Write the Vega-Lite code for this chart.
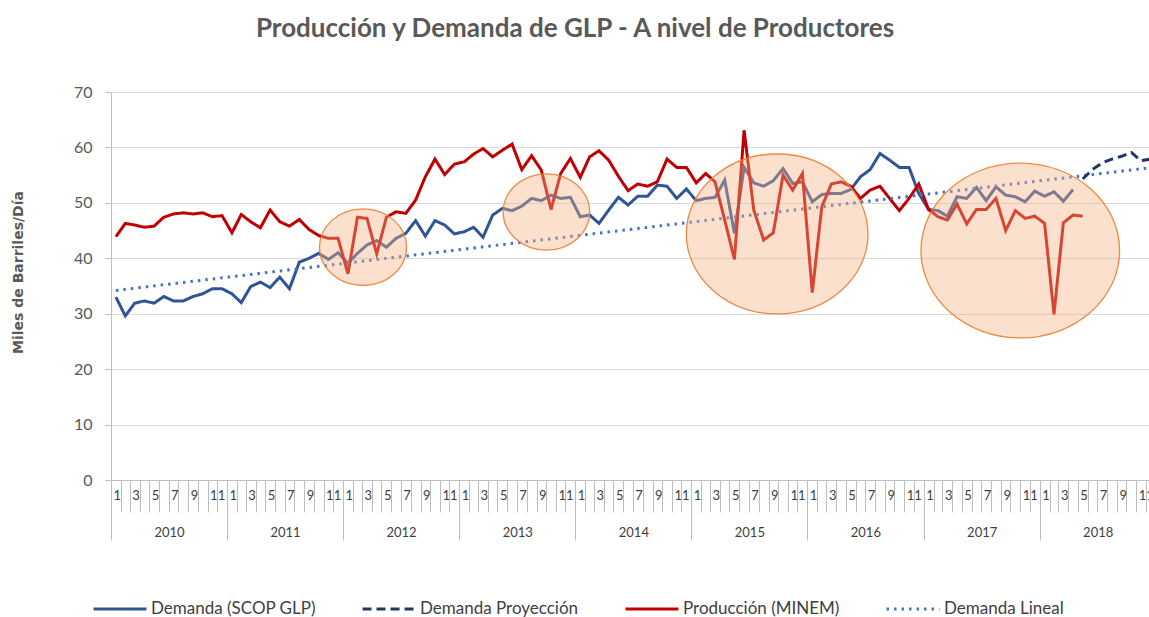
{
  "$schema": "https://vega.github.io/schema/vega-lite/v6.json",
  "autosize": {"type": "none"},
  "width": 1038,
  "height": 388,
  "padding": {"left": 111, "top": 92, "right": 0, "bottom": 137},
  "background": "white",
  "title": {
    "text": "Producción y Demanda de GLP - A nivel de Productores",
    "font": "Lato", "fontSize": 26, "fontWeight": "bold", "color": "#595959",
    "anchor": "middle", "frame": "group", "dx": -55, "offset": 21, "baseline": "alphabetic"
  },
  "config": {
    "font": "Lato",
    "view": {"stroke": null},
    "axis": {"labelFont": "Lato", "titleFont": "Lato"}
  },
  "resolve": {"axis": {"x": "independent"}},
  "layer": [
    {
      "data": {"values": [
        {"fecha":"2010-01","demanda":33,"produccion":43.9,"lineal":34.2},
        {"fecha":"2010-02","demanda":29.6,"produccion":46.3},
        {"fecha":"2010-03","demanda":31.9,"produccion":46},
        {"fecha":"2010-04","demanda":32.3,"produccion":45.6},
        {"fecha":"2010-05","demanda":31.9,"produccion":45.8},
        {"fecha":"2010-06","demanda":33.1,"produccion":47.4},
        {"fecha":"2010-07","demanda":32.3,"produccion":48},
        {"fecha":"2010-08","demanda":32.3,"produccion":48.2},
        {"fecha":"2010-09","demanda":33.1,"produccion":48},
        {"fecha":"2010-10","demanda":33.6,"produccion":48.2},
        {"fecha":"2010-11","demanda":34.5,"produccion":47.5},
        {"fecha":"2010-12","demanda":34.5,"produccion":47.7},
        {"fecha":"2011-01","demanda":33.6,"produccion":44.6},
        {"fecha":"2011-02","demanda":32,"produccion":47.9},
        {"fecha":"2011-03","demanda":34.9,"produccion":46.6},
        {"fecha":"2011-04","demanda":35.7,"produccion":45.5},
        {"fecha":"2011-05","demanda":34.7,"produccion":48.7},
        {"fecha":"2011-06","demanda":36.6,"produccion":46.6},
        {"fecha":"2011-07","demanda":34.5,"produccion":45.8},
        {"fecha":"2011-08","demanda":39.3,"produccion":47},
        {"fecha":"2011-09","demanda":40,"produccion":45.2},
        {"fecha":"2011-10","demanda":40.9,"produccion":44.1},
        {"fecha":"2011-11","demanda":39.8,"produccion":43.6},
        {"fecha":"2011-12","demanda":41,"produccion":43.6},
        {"fecha":"2012-01","demanda":39.1,"produccion":37.2},
        {"fecha":"2012-02","demanda":40.9,"produccion":47.4},
        {"fecha":"2012-03","demanda":42.4,"produccion":47.2},
        {"fecha":"2012-04","demanda":43.2,"produccion":40.8},
        {"fecha":"2012-05","demanda":42,"produccion":47.4},
        {"fecha":"2012-06","demanda":43.6,"produccion":48.4},
        {"fecha":"2012-07","demanda":44.5,"produccion":48.1},
        {"fecha":"2012-08","demanda":46.8,"produccion":50.5},
        {"fecha":"2012-09","demanda":44,"produccion":54.7},
        {"fecha":"2012-10","demanda":46.8,"produccion":57.9},
        {"fecha":"2012-11","demanda":46,"produccion":55.1},
        {"fecha":"2012-12","demanda":44.4,"produccion":57},
        {"fecha":"2013-01","demanda":44.8,"produccion":57.4},
        {"fecha":"2013-02","demanda":45.6,"produccion":58.8},
        {"fecha":"2013-03","demanda":43.8,"produccion":59.8},
        {"fecha":"2013-04","demanda":47.8,"produccion":58.3},
        {"fecha":"2013-05","demanda":49,"produccion":59.5},
        {"fecha":"2013-06","demanda":48.6,"produccion":60.6},
        {"fecha":"2013-07","demanda":49.4,"produccion":56},
        {"fecha":"2013-08","demanda":50.8,"produccion":58.5},
        {"fecha":"2013-09","demanda":50.4,"produccion":55.9},
        {"fecha":"2013-10","demanda":51.4,"produccion":48.8},
        {"fecha":"2013-11","demanda":50.8,"produccion":55.3},
        {"fecha":"2013-12","demanda":51,"produccion":58},
        {"fecha":"2014-01","demanda":47.5,"produccion":54.6},
        {"fecha":"2014-02","demanda":47.8,"produccion":58.3},
        {"fecha":"2014-03","demanda":46.3,"produccion":59.4},
        {"fecha":"2014-04","demanda":48.7,"produccion":57.7},
        {"fecha":"2014-05","demanda":51,"produccion":54.8},
        {"fecha":"2014-06","demanda":49.6,"produccion":52.2},
        {"fecha":"2014-07","demanda":51.2,"produccion":53.4},
        {"fecha":"2014-08","demanda":51.2,"produccion":53},
        {"fecha":"2014-09","demanda":53.2,"produccion":53.8},
        {"fecha":"2014-10","demanda":53,"produccion":57.9},
        {"fecha":"2014-11","demanda":50.8,"produccion":56.4},
        {"fecha":"2014-12","demanda":52.5,"produccion":56.4},
        {"fecha":"2015-01","demanda":50.4,"produccion":53.6},
        {"fecha":"2015-02","demanda":50.8,"produccion":55.3},
        {"fecha":"2015-03","demanda":51,"produccion":53.8},
        {"fecha":"2015-04","demanda":54.1,"produccion":46.9},
        {"fecha":"2015-05","demanda":44.5,"produccion":39.8},
        {"fecha":"2015-06","demanda":56.4,"produccion":63.1},
        {"fecha":"2015-07","demanda":53.6,"produccion":48.7},
        {"fecha":"2015-08","demanda":53,"produccion":43.3},
        {"fecha":"2015-09","demanda":54,"produccion":44.6},
        {"fecha":"2015-10","demanda":56.2,"produccion":55},
        {"fecha":"2015-11","demanda":53.5,"produccion":52.3},
        {"fecha":"2015-12","demanda":53.8,"produccion":55.3},
        {"fecha":"2016-01","demanda":50.2,"produccion":33.8},
        {"fecha":"2016-02","demanda":51.5,"produccion":49.3},
        {"fecha":"2016-03","demanda":51.7,"produccion":53.4},
        {"fecha":"2016-04","demanda":51.7,"produccion":53.8},
        {"fecha":"2016-05","demanda":52.4,"produccion":53},
        {"fecha":"2016-06","demanda":54.7,"produccion":50.8},
        {"fecha":"2016-07","demanda":56,"produccion":52.3},
        {"fecha":"2016-08","demanda":58.9,"produccion":53},
        {"fecha":"2016-09","demanda":57.7,"produccion":50.8},
        {"fecha":"2016-10","demanda":56.4,"produccion":48.6},
        {"fecha":"2016-11","demanda":56.4,"produccion":50.8},
        {"fecha":"2016-12","demanda":51.7,"produccion":53.4},
        {"fecha":"2017-01","demanda":48.8,"produccion":48.8},
        {"fecha":"2017-02","demanda":48.6,"produccion":47.5},
        {"fecha":"2017-03","demanda":47.6,"produccion":46.9},
        {"fecha":"2017-04","demanda":51.1,"produccion":49.8},
        {"fecha":"2017-05","demanda":50.8,"produccion":46.2},
        {"fecha":"2017-06","demanda":52.8,"produccion":48.8},
        {"fecha":"2017-07","demanda":50.4,"produccion":48.8},
        {"fecha":"2017-08","demanda":52.9,"produccion":50.8},
        {"fecha":"2017-09","demanda":51.4,"produccion":45},
        {"fecha":"2017-10","demanda":51.1,"produccion":48.6},
        {"fecha":"2017-11","demanda":50.2,"produccion":47.2},
        {"fecha":"2017-12","demanda":52.1,"produccion":47.6},
        {"fecha":"2018-01","demanda":51.2,"produccion":46.3},
        {"fecha":"2018-02","demanda":52,"produccion":29.9},
        {"fecha":"2018-03","demanda":50.3,"produccion":46.4},
        {"fecha":"2018-04","demanda":52.4,"produccion":47.8},
        {"fecha":"2018-05","produccion":47.6,"proyeccion":54.3},
        {"fecha":"2018-06","proyeccion":56},
        {"fecha":"2018-07","proyeccion":57.2},
        {"fecha":"2018-08","proyeccion":57.9},
        {"fecha":"2018-09","proyeccion":58.4},
        {"fecha":"2018-10","proyeccion":59.1},
        {"fecha":"2018-11","proyeccion":57.6},
        {"fecha":"2018-12","proyeccion":57.9,"lineal":56.35}
      ]},
      "transform": [
        {"fold": ["demanda", "proyeccion", "produccion", "lineal"], "as": ["serie", "valor"]},
        {"filter": "isValid(datum.valor)"}
      ],
      "mark": {"type": "line", "strokeWidth": 3, "clip": true},
      "encoding": {
        "x": {
          "field": "fecha", "timeUnit": "utcyearmonth", "type": "temporal", "bandPosition": 0.5,
          "scale": {"domain": [{"year": 2010, "month": 1, "date": 1, "utc": true}, {"year": 2018, "month": 12, "date": 11, "utc": true}]},
          "axis": {
            "orient": "bottom", "title": null, "grid": false,
            "tickCount": {"interval": "month", "step": 1},
            "tickSize": 32, "tickColor": "#BFBFBF", "domainColor": "#BFBFBF",
            "labelExpr": "utcmonth(datum.value) % 2 == 0 ? '' + (utcmonth(datum.value) + 1) : ''",
            "labelAlign": "left", "labelBaseline": "middle", "labelPadding": -17, "labelOffset": 2,
            "labelOverlap": false, "labelFlush": false, "labelBound": false,
            "labelFontSize": 13, "labelColor": "#404040"
          }
        },
        "y": {
          "field": "valor", "type": "quantitative",
          "scale": {"domain": [0, 70], "nice": false},
          "axis": {
            "values": [0, 10, 20, 30, 40, 50, 60, 70],
            "grid": true, "gridColor": "#D9D9D9", "gridWidth": 1,
            "tickSize": 6, "tickColor": "#BFBFBF", "domainColor": "#BFBFBF",
            "labelFontSize": 16, "labelPadding": 13, "labelColor": "#595959",
            "title": "Miles de Barriles/Día",
            "titleFont": "DejaVu Sans", "titleFontWeight": "bold", "titleFontSize": 14, "titleColor": "#595959",
            "titleAngle": -90, "titleX": -93, "titleY": 180, "titleAlign": "center", "titleBaseline": "middle"
          }
        },
        "color": {
          "field": "serie", "type": "nominal",
          "scale": {"domain": ["demanda", "proyeccion", "produccion", "lineal"], "range": ["#2F5597", "#1F3864", "#C00000", "#4472C4"]},
          "legend": {
            "orient": "none", "legendX": -19, "legendY": 489, "direction": "horizontal", "title": null,
            "symbolType": "stroke", "symbolSize": 2800, "symbolStrokeWidth": 3,
            "labelFont": "Lato", "labelFontSize": 17, "labelColor": "#404040", "labelOffset": 3, "columnPadding": 40, "labelLimit": 400,
            "labelExpr": "datum.label == 'demanda' ? 'Demanda (SCOP GLP)' : datum.label == 'proyeccion' ? 'Demanda Proyección' : datum.label == 'produccion' ? 'Producción (MINEM)' : 'Demanda Lineal'"
          }
        },
        "strokeDash": {
          "field": "serie", "type": "nominal",
          "scale": {"domain": ["demanda", "proyeccion", "produccion", "lineal"], "range": [[1, 0], [9, 5], [1, 0], [2.5, 5]]},
          "legend": {
            "orient": "none", "legendX": -19, "legendY": 489, "direction": "horizontal", "title": null,
            "symbolType": "stroke", "symbolSize": 2800, "symbolStrokeWidth": 3,
            "labelFont": "Lato", "labelFontSize": 17, "labelColor": "#404040", "labelOffset": 3, "columnPadding": 40, "labelLimit": 400,
            "labelExpr": "datum.label == 'demanda' ? 'Demanda (SCOP GLP)' : datum.label == 'proyeccion' ? 'Demanda Proyección' : datum.label == 'produccion' ? 'Producción (MINEM)' : 'Demanda Lineal'"
          }
        }
      }
    },
    {
      "data": {"values": [
        {"fecha": "2012-03-04", "valor": 42.0, "ancho": 9.0},
        {"fecha": "2013-10-02", "valor": 48.35, "ancho": 8.96},
        {"fecha": "2015-09-28", "valor": 44.4, "ancho": 18.78},
        {"fecha": "2017-11-01", "valor": 41.4, "ancho": 20.54}
      ]},
      "mark": {
        "type": "point",
        "shape": "M-1,0C-1,-0.486,-0.552,-0.88,0,-0.88C0.552,-0.88,1,-0.486,1,0C1,0.486,0.552,0.88,0,0.88C-0.552,0.88,-1,0.486,-1,0Z",
        "filled": true, "fill": "#F4B183", "fillOpacity": 0.4, "opacity": 1,
        "stroke": "#ED7D31", "strokeWidth": 1.3, "strokeOpacity": 0.9
      },
      "encoding": {
        "x": {
          "field": "fecha", "timeUnit": "utcyearmonthdate", "type": "temporal",
          "scale": {"domain": [{"year": 2010, "month": 1, "date": 1, "utc": true}, {"year": 2018, "month": 12, "date": 11, "utc": true}]},
          "axis": {
            "orient": "bottom", "title": null, "grid": false, "domain": false, "ticks": true,
            "tickCount": {"interval": "year", "step": 1},
            "tickSize": 60, "tickWidth": 1, "tickColor": "#BFBFBF", "tickOpacity": 1,
            "labelExpr": "utcFormat(datum.value, '%Y')",
            "labelAlign": "center", "labelBaseline": "middle", "labelOffset": 58, "labelPadding": -8,
            "labelOverlap": false, "labelFlush": false, "labelBound": false,
            "labelFontSize": 13, "labelColor": "#404040"
          }
        },
        "y": {"field": "valor", "type": "quantitative", "scale": {"domain": [0, 70], "nice": false}},
        "size": {
          "field": "ancho", "type": "quantitative",
          "scale": {"type": "pow", "exponent": 2, "domain": [0, 20], "range": [0, 37405]},
          "legend": null
        }
      }
    }
  ]
}
